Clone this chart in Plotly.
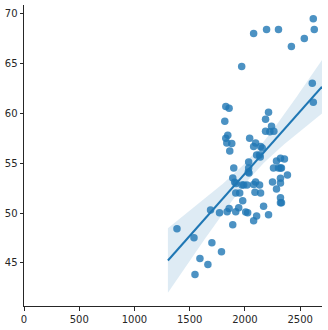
import numpy as np
import plotly.graph_objects as go

x_vals = [1385, 1539, 1548, 1593, 1665, 1689, 1701, 1770, 1788, 1818,
          1827, 1857, 1827, 1845, 1836, 1881, 1863, 1899, 1890, 1908,
          1920, 1917, 1953, 1839, 1857, 1890, 1917, 1944, 1980, 1974,
          1989, 2019, 2007, 2025, 2031, 2034, 2034, 2037, 2043, 1971,
          2079, 2196, 2304, 2421, 2538, 2619, 2628, 2610, 2619, 2079,
          2097, 2142, 2157, 2106, 2133, 2139, 2187, 2214, 2187, 2226,
          2241, 2262, 2097, 2079, 2133, 2091, 2142, 2079, 2106, 2169,
          2214, 2250, 2259, 2286, 2286, 2322, 2304, 2322, 2331, 2358,
          2385, 2322, 2322, 2322, 2322, 2331]
y_vals = [48.43, 47.53, 43.83, 45.43, 44.83, 50.30, 47.03, 50.03, 46.13, 59.23,
          60.70, 60.53, 57.53, 57.83, 57.03, 57.00, 56.23, 54.53, 53.53, 53.10,
          52.97, 52.03, 52.03, 50.13, 50.47, 48.83, 50.13, 50.53, 51.23, 52.83,
          52.83, 52.83, 50.10, 50.03, 54.13, 54.53, 55.13, 54.03, 57.53, 64.73,
          68.03, 68.43, 68.43, 66.73, 67.53, 69.53, 68.43, 63.03, 61.13, 56.70,
          57.03, 56.70, 56.53, 55.83, 55.83, 55.63, 59.43, 60.13, 58.23, 58.17,
          58.73, 58.23, 53.13, 52.87, 52.83, 52.10, 52.03, 49.23, 49.70, 50.70,
          49.83, 53.13, 54.53, 52.43, 55.23, 55.50, 54.53, 54.53, 54.53, 55.43,
          53.83, 53.50, 53.03, 51.53, 51.03, 51.03]

x_ticks = [0, 500, 1000, 1500, 2000, 2500]
y_ticks = [45, 50, 55, 60, 65, 70]
x_limits = [0, 2698]
y_limits = [40.67, 70.9]

x = np.array(x_vals, dtype=float)
y = np.array(y_vals, dtype=float)
n = len(x)
slope, intercept = np.polyfit(x, y, 1)
span = x.max() - x.min()
grid = np.linspace(x.min() - 0.066 * span, x_limits[1], 120)
fit = intercept + slope * grid
resid = y - (intercept + slope * x)
s = np.sqrt(np.sum(resid ** 2) / (n - 2))
xm = x.mean()
sxx = np.sum((x - xm) ** 2)
se = s * np.sqrt(1.0 / n + (grid - xm) ** 2 / sxx)
tval = 1.99
upper = fit + tval * se
lower = fit - tval * se

blue = "#1f77b4"
fig = go.Figure()
fig.add_trace(go.Scatter(
    x=np.concatenate([grid, grid[::-1]]),
    y=np.concatenate([upper, lower[::-1]]),
    fill="toself", fillcolor="rgba(31,119,180,0.15)",
    line=dict(width=0), mode="lines", hoverinfo="skip", showlegend=False))
fig.add_trace(go.Scatter(
    x=x, y=y, mode="markers",
    marker=dict(size=7.5, color="rgba(31,119,180,0.8)", line=dict(width=0)),
    showlegend=False))
fig.add_trace(go.Scatter(
    x=grid, y=fit, mode="lines", line=dict(color=blue, width=2),
    showlegend=False))

axis_common = dict(showgrid=False, zeroline=False, showline=True,
                   linecolor="#262626", linewidth=1, ticks="outside",
                   ticklen=3.5, tickwidth=1, tickcolor="#262626",
                   tickfont=dict(family="DejaVu Sans", size=10, color="#262626"),
                   mirror=False)
fig.update_layout(
    width=328, height=330,
    margin=dict(l=22, r=6, t=5, b=23),
    paper_bgcolor="white", plot_bgcolor="white",
    xaxis=dict(range=x_limits, tickvals=x_ticks, **axis_common),
    yaxis=dict(range=y_limits, tickvals=y_ticks, **axis_common),
)
fig.write_html("out.html")
